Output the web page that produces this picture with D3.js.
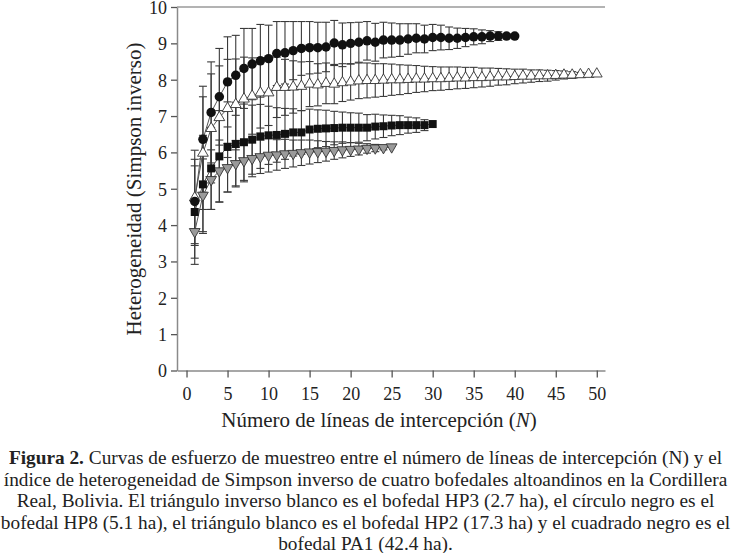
<!DOCTYPE html>
<html>
<head>
  <meta charset="utf-8">
  <script src="https://d3js.org/d3.v7.min.js"></script>
  <style>
      body { margin: 0; background: #fff; }
      text { font-family: "Liberation Serif", "Times New Roman", serif; fill: #222; }
  </style>
</head>
<body>
<script>
var width = 731;
var height = 553;

// mean and SD per number of intercept lines (N = 1, 2, ...)
const hp8Mean = [4.65, 6.36, 7.10, 7.53, 7.94, 8.12, 8.31, 8.43, 8.52, 8.58, 8.72, 8.74, 8.80, 8.86, 8.88, 8.88, 8.90, 9.01, 8.96, 9.00,
                 9.03, 9.07, 9.03, 9.09, 9.09, 9.09, 9.12, 9.14, 9.12, 9.16, 9.16, 9.14, 9.14, 9.16, 9.18, 9.18, 9.20, 9.20, 9.20, 9.20];
const hp8Sd = [1.16, 1.46, 1.39, 1.33, 1.24, 1.10, 1.10, 0.98, 1.00, 0.92, 0.88, 0.86, 0.80, 0.74, 0.72, 0.70, 0.68, 0.62, 0.60, 0.57,
               0.55, 0.53, 0.52, 0.49, 0.47, 0.45, 0.42, 0.40, 0.38, 0.36, 0.34, 0.31, 0.28, 0.25, 0.22, 0.19, 0.15, 0.12, 0.07, 0.00];

const hp2Mean = [4.75, 5.98, 6.66, 6.96, 7.21, 7.32, 7.47, 7.55, 7.64, 7.64, 7.79, 7.79, 7.80, 7.82, 7.88, 7.86, 7.90, 7.88, 7.92, 7.94,
                 7.97, 7.98, 7.98, 7.99, 8.00, 8.00, 8.01, 8.02, 8.02, 8.03, 8.03, 8.04, 8.05, 8.05, 8.06, 8.06, 8.07, 8.08, 8.08, 8.09,
                 8.10, 8.10, 8.11, 8.11, 8.12, 8.13, 8.13, 8.14, 8.15, 8.16];
const hp2Sd = [1.31, 1.55, 1.50, 1.42, 1.35, 1.25, 1.15, 1.05, 0.97, 0.90, 0.83, 0.77, 0.72, 0.67, 0.62, 0.58, 0.56, 0.54, 0.52, 0.50,
               0.49, 0.48, 0.46, 0.45, 0.43, 0.41, 0.39, 0.37, 0.35, 0.33, 0.32, 0.31, 0.30, 0.29, 0.28, 0.26, 0.25, 0.23, 0.22, 0.20,
               0.19, 0.17, 0.16, 0.15, 0.13, 0.11, 0.09, 0.06, 0.03, 0.00];

const pa1Mean = [4.36, 5.12, 5.56, 5.89, 6.15, 6.23, 6.28, 6.35, 6.44, 6.47, 6.48, 6.51, 6.55, 6.55, 6.63, 6.65, 6.66, 6.67, 6.68, 6.68,
                 6.68, 6.68, 6.71, 6.72, 6.74, 6.75, 6.75, 6.75, 6.75, 6.78];
const pa1Sd = [1.27, 1.35, 1.13, 1.26, 1.24, 1.15, 1.05, 0.95, 0.88, 0.80, 0.75, 0.70, 0.65, 0.60, 0.56, 0.52, 0.50, 0.46, 0.43, 0.41,
               0.40, 0.36, 0.34, 0.31, 0.28, 0.26, 0.22, 0.20, 0.15, 0.00];

const hp3Mean = [3.82, 4.82, 5.25, 5.49, 5.58, 5.69, 5.77, 5.83, 5.88, 5.92, 5.93, 5.96, 5.97, 5.99, 6.01, 6.02, 6.03, 6.05, 6.07, 6.08,
                 6.09, 6.11, 6.12, 6.13, 6.15];
const hp3Sd = [0.90, 1.00, 0.82, 0.85, 0.67, 0.64, 0.58, 0.50, 0.46, 0.46, 0.42, 0.40, 0.37, 0.35, 0.33, 0.30, 0.27, 0.24, 0.22, 0.19,
               0.16, 0.13, 0.10, 0.06, 0.00];

const xTicks = [0, 5, 10, 15, 20, 25, 30, 35, 40, 45, 50];
const yTicks = [0, 1, 2, 3, 4, 5, 6, 7, 8, 9, 10];

const caption = [
  "Curvas de esfuerzo de muestreo entre el número de líneas de intercepción (N) y el",
  "índice de heterogeneidad de Simpson inverso de cuatro bofedales altoandinos en la Cordillera",
  "Real, Bolivia. El triángulo inverso blanco es el bofedal HP3 (2.7 ha), el círculo negro es el",
  "bofedal HP8 (5.1 ha), el triángulo blanco es el bofedal HP2 (17.3 ha) y el cuadrado negro es el",
  "bofedal PA1 (42.4 ha)."
];

// draw order: bottom to top
var series = [
  { mean: hp3Mean, sd: hp3Sd, shape: "down", fill: "#9a9a9a" },
  { mean: pa1Mean, sd: pa1Sd, shape: "square", fill: "#111" },
  { mean: hp2Mean, sd: hp2Sd, shape: "up", fill: "#fff" },
  { mean: hp8Mean, sd: hp8Sd, shape: "circle", fill: "#111" }
];

var pLeft = 177, pRight = 605, pTop = 7, pBottom = 370.5;

var x = d3.scaleLinear().domain([-1.16, 51]).range([pLeft, pRight]);
var y = d3.scaleLinear().domain([0, 10]).range([pBottom, pTop]);

var svg = d3.select("body").append("svg")
    .attr("width", width)
    .attr("height", height);

// top frame line
svg.append("line")
    .attr("x1", pLeft).attr("x2", pRight)
    .attr("y1", pTop).attr("y2", pTop)
    .style("stroke", "#9a9a9a").style("stroke-width", 1.5);

var xAxis = svg.append("g")
    .attr("transform", `translate(0,${pBottom})`)
    .call(d3.axisBottom(x).tickValues(xTicks).tickSize(7).tickSizeOuter(0).tickPadding(10));
var yAxis = svg.append("g")
    .attr("transform", `translate(${pLeft},0)`)
    .call(d3.axisLeft(y).tickValues(yTicks).tickSize(6).tickSizeOuter(0).tickPadding(4));

[xAxis, yAxis].forEach(function(a) {
  a.select(".domain").style("stroke", "#8a8a8a").style("stroke-width", 1.5);
  a.selectAll(".tick line").style("stroke", "#555").style("stroke-width", 1.3);
  a.selectAll(".tick text").style("font-size", "18px").style("font-family", "Liberation Serif").style("fill", "#222");
});
yAxis.selectAll(".tick text").attr("dy", "0.36em");

var xTitle = svg.append("text")
    .attr("x", 379).attr("y", 427)
    .attr("text-anchor", "middle")
    .style("font-size", "21px");
xTitle.append("tspan").text("Número de líneas de intercepción (");
xTitle.append("tspan").style("font-style", "italic").text("N");
xTitle.append("tspan").text(")");

svg.append("text")
    .attr("transform", "translate(141,189) rotate(-90)")
    .attr("text-anchor", "middle")
    .style("font-size", "21px")
    .text("Heterogeneidad (Simpson inverso)");

var plot = svg.append("g");

// error bars
series.forEach(function(s) {
  var g = plot.append("g");
  s.mean.forEach(function(m, i) {
    var cx = x(i + 1), sd = s.sd[i];
    if (sd <= 0) return;
    g.append("line")
        .attr("x1", cx).attr("x2", cx)
        .attr("y1", y(m - sd)).attr("y2", y(m + sd))
        .style("stroke", "#3a3a3a").style("stroke-width", 1.1);
    [m - sd, m + sd].forEach(function(v) {
      g.append("line")
          .attr("x1", cx - 4).attr("x2", cx + 4)
          .attr("y1", y(v)).attr("y2", y(v))
          .style("stroke", "#3a3a3a").style("stroke-width", 1.1);
    });
  });
});

// connecting lines
var line = d3.line().x(function(d, i) { return x(i + 1); }).y(function(d) { return y(d); });
series.forEach(function(s) {
  plot.append("path")
      .attr("d", line(s.mean))
      .style("fill", "none").style("stroke", "#555").style("stroke-width", 1);
});

// markers
var symbols = {
  circle: d3.symbol().type(d3.symbolCircle).size(70),
  square: d3.symbol().type(d3.symbolSquare).size(64),
  up: d3.symbol().type(d3.symbolTriangle).size(50),
  down: d3.symbol().type(d3.symbolTriangle).size(50)
};
series.forEach(function(s) {
  plot.append("g").selectAll("path")
      .data(s.mean)
      .enter().append("path")
      .attr("d", symbols[s.shape])
      .attr("transform", function(d, i) {
        return `translate(${x(i + 1)},${y(d)})` + (s.shape === "down" ? " rotate(180)" : "");
      })
      .style("fill", s.fill)
      .style("stroke", s.shape === "up" || s.shape === "down" ? "#333" : "none")
      .style("stroke-width", 0.9);
});

// caption
var cap = svg.append("g").style("font-size", "16px");
var capY = [464, 485.5, 507, 528.5, 550];
caption.forEach(function(t, i) {
  var txt = cap.append("text")
      .attr("x", width / 2).attr("y", capY[i])
      .attr("text-anchor", "middle");
  if (i === 0) {
    txt.append("tspan").style("font-weight", "bold").text("Figura 2.");
    txt.append("tspan").text(" " + t);
  } else {
    txt.text(t);
  }
});
// fit the caption to the width of the original block
var w = cap.selectAll("text").nodes()[1].getComputedTextLength();
cap.style("font-size", (16 * 724 / w) + "px");
</script>
</body>
</html>
